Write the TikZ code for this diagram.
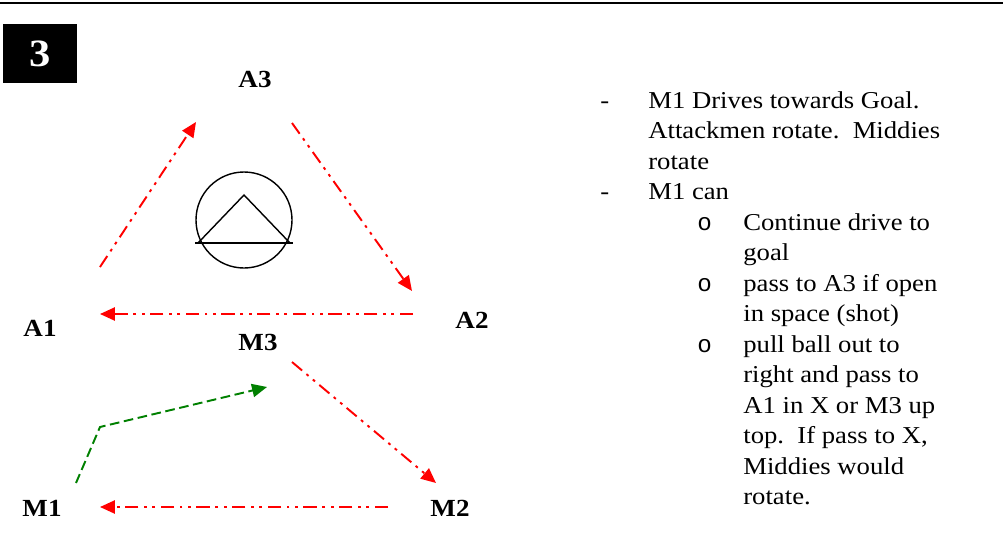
\documentclass[tikz,border=0pt]{standalone}
\usepackage{fontspec}
\setmainfont{Liberation Serif}[FakeStretch=1.1]
\newfontfamily\bulletfont{Liberation Mono}
\usetikzlibrary{arrows.meta}

\begin{document}
\begin{tikzpicture}[
  x=0.02cm, y=-0.02cm,
  player/.style={inner sep=0pt, font=\fontsize{14}{16}\selectfont\bfseries},
  numbox/.style={fill=black, text=white, minimum width=1.48cm, minimum height=1.2cm, font=\fontsize{22}{24}\selectfont\bfseries},
  pass/.style={red, line width=1.1pt, dash pattern=on 7.5pt off 3.2pt on 1.6pt off 3.2pt on 1.6pt off 3.2pt, -{Triangle[length=8.5pt, width=7.5pt]}},
  drive/.style={green!50!black, line width=1.1pt, dash pattern=on 5.5pt off 2.6pt, -{Triangle[length=8.5pt, width=7.5pt]}},
  txt/.style={anchor=base west, inner sep=0pt, font=\fontsize{13.8}{16}\selectfont},
]
\useasboundingbox (0,0) rectangle (1003,551);
\draw[line width=1.4pt] (0,3) -- (1003,3);
\node[numbox] (num) at (40,53.5) {3};

% players
\node[player] (A3) at (255,79) {A3};
\node[player] (A1) at (40,328) {A1};
\node[player] (A2) at (472,320) {A2};
\node[player] (M3) at (258,342) {M3};
\node[player] (M1) at (42,508) {M1};
\node[player] (M2) at (450,508) {M2};

% goal
\draw[line width=0.8pt] (244,220) circle[radius=48];
\draw[line width=0.8pt] (195,243) -- (293,243);
\draw[line width=0.8pt] (198,243) -- (244,195) -- (290,243);

% rotation
\coordinate (a1out) at (100,267);
\coordinate (a3in) at (196,122);
\coordinate (a3out) at (292,123);
\coordinate (a2in) at (412,291);
\coordinate (a2out) at (413,314);
\coordinate (a1in) at (100,314);
\coordinate (m3out) at (292,362);
\coordinate (m2in) at (436,483);
\coordinate (m2out) at (388,507);
\coordinate (m1in) at (100,507);
\coordinate (m1out) at (76,483);
\coordinate (bend) at (100,427);
\coordinate (m3in) at (267,387);
\draw[pass] (a1out) -- (a3in);
\draw[pass] (a3out) -- (a2in);
\draw[pass] (a2out) -- (a1in);
\draw[pass] (m3out) -- (m2in);
\draw[pass] (m2out) -- (m1in);
\draw[drive] (m1out) -- (bend) -- (m3in);

% notes
\foreach \k in {0,3}
  \node[txt] (d\k) at (600,108+30.5*\k) {-};
\foreach \k in {4,6,8}
  \node[txt, font=\bulletfont\fontsize{13.8}{16}\selectfont] (o\k) at (697,108+30.5*\k) {o};
\foreach \k/\line in {0/{M1 Drives towards Goal.}, 1/{Attackmen rotate.\ \ Middies}, 2/{rotate}, 3/{M1 can}}
  \node[txt] (l\k) at (648,108+30.5*\k) {\line};
\foreach \k/\line in {4/{Continue drive to}, 5/{goal}, 6/{pass to A3 if open}, 7/{in space (shot)}, 8/{pull ball out to}, 9/{right and pass to}, 10/{A1 in X or M3 up}, 11/{top.\ \ If pass to X,}, 12/{Middies would}, 13/{rotate.}}
  \node[txt] (l\k) at (743,108+30.5*\k) {\line};
\end{tikzpicture}
\end{document}
